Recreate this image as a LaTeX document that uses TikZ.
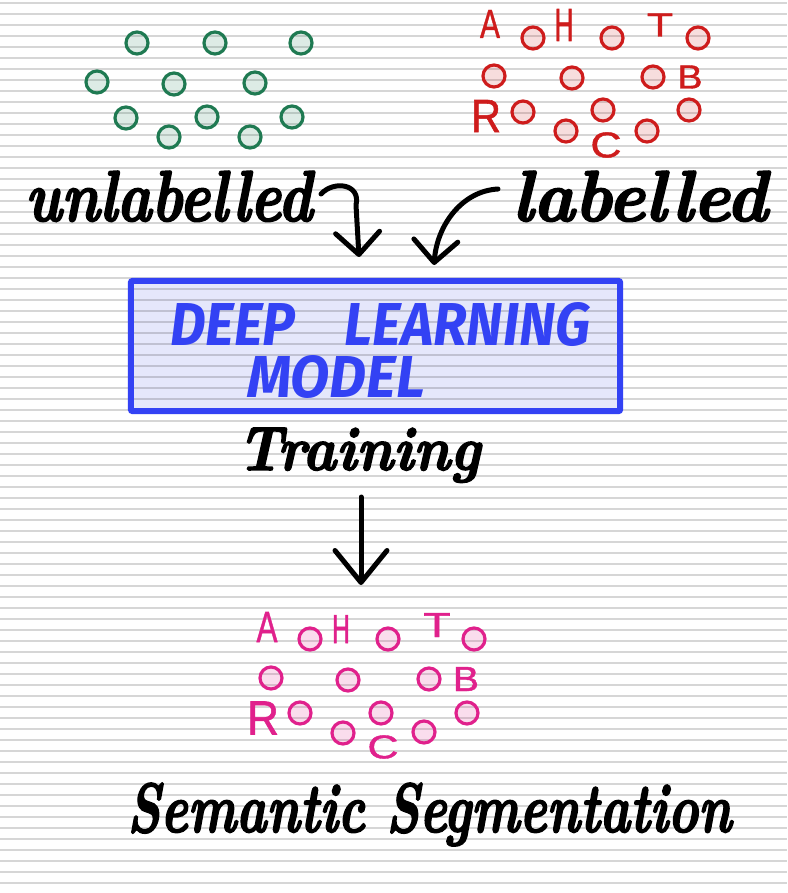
\documentclass[tikz,border=0pt]{standalone}
\usepackage{fontspec}
\usepackage{graphicx}
\usetikzlibrary{arrows.meta}

% handwriting-like faces
\newfontfamily\handfont{lmroman10-bolditalic.otf}[FakeBold=2.5]
\newfontfamily\markerfont{Fira Sans}
\newfontfamily\letterfont{Liberation Sans}[FakeBold=1.2]

\definecolor{dgreen}{HTML}{1F7A52}
\definecolor{dred}{HTML}{CE1C1C}
\definecolor{dpink}{HTML}{E0218C}
\definecolor{mblue}{HTML}{3342F4}
\definecolor{lavender}{HTML}{E5E7FB}

% scale a piece of text to a given width and height (in pt)
\newcommand\fitbox[3]{\resizebox{#1pt}{#2pt}{#3}}

\begin{document}
\begin{tikzpicture}[x=1pt,y=-1pt,
  rule/.style={line width=2pt, draw=black, draw opacity=0.16},
  dot/.style={circle, minimum size=22pt, inner sep=0pt, line width=3.2pt},
  gdot/.style={dot, draw=dgreen, fill=dgreen, fill opacity=0.15},
  rdot/.style={dot, draw=dred, fill=dred, fill opacity=0.15},
  pdot/.style={dot, draw=dpink, fill=dpink, fill opacity=0.15},
  rlet/.style={font=\letterfont, text=dred, inner sep=0pt},
  plet/.style={font=\letterfont, text=dpink, inner sep=0pt},
  hand/.style={font=\handfont, text=black, inner sep=0pt, anchor=base west},
  marker/.style={font=\markerfont\bfseries\itshape, text=mblue, inner sep=0pt, anchor=base west},
  modelfill/.style={rectangle, fill=lavender, minimum width=489pt, minimum height=130pt, inner sep=0pt},
  modelline/.style={draw=mblue, line width=6pt, rounded corners=2pt},
  arr/.style={line width=5pt, line cap=round, line join=round, draw=black,
    -{Straight Barb[length=22pt, width=44pt, round]}}
]
\useasboundingbox (0,0) rectangle (787,893);
\fill[white] (0,0) rectangle (787,893);

% model box fill lies under the ruled lines
\node[modelfill] (box) at (375.5,346) {};

% ruled notebook paper
\foreach \k in {0,...,80}
  \draw[rule] (0,{2.7+11*\k}) -- (787,{2.7+11*\k});

% model box outline and title
\draw[modelline] (box.north west) rectangle (box.south east);
\node[marker] (deep) at (170,345) {\fitbox{420}{43}{DEEP\hspace{0.9em}LEARNING}};
\node[marker] (model) at (247,397) {\fitbox{178}{42}{MODEL}};

% unlabelled samples
\node[gdot] (g1) at (137,43) {};
\node[gdot] (g2) at (215,43) {};
\node[gdot] (g3) at (301,43) {};
\node[gdot] (g4) at (97,82) {};
\node[gdot] (g5) at (174,84) {};
\node[gdot] (g6) at (255,83) {};
\node[gdot] (g7) at (126,118) {};
\node[gdot] (g8) at (207,117) {};
\node[gdot] (g9) at (292,117) {};
\node[gdot] (g10) at (169,137) {};
\node[gdot] (g11) at (250,137) {};

% labelled samples
\node[rdot] (r1) at (533,38) {};
\node[rdot] (r2) at (612,38) {};
\node[rdot] (r3) at (698,38) {};
\node[rdot] (r4) at (494,76) {};
\node[rdot] (r5) at (572,78) {};
\node[rdot] (r6) at (653,77) {};
\node[rdot] (r7) at (523,112) {};
\node[rdot] (r8) at (603,110) {};
\node[rdot] (r9) at (689,110) {};
\node[rdot] (r10) at (566,131) {};
\node[rdot] (r11) at (647,131) {};
\node[rlet] (rA) at (490,24) {\fitbox{20}{28}{A}};
\node[rlet] (rH) at (564,25) {\fitbox{19}{32}{H}};
\node[rlet] (rT) at (660,25) {\fitbox{26}{23}{T}};
\node[rlet] (rB) at (690,77) {\fitbox{25}{23}{B}};
\node[rlet] (rR) at (486,116) {\fitbox{30}{32}{R}};
\node[rlet] (rC) at (606,145) {\fitbox{31}{25}{C}};

% segmented output
\node[pdot] (p1) at (310,639) {};
\node[pdot] (p2) at (388,639) {};
\node[pdot] (p3) at (474,639) {};
\node[pdot] (p4) at (271,678) {};
\node[pdot] (p5) at (348,680) {};
\node[pdot] (p6) at (429,679) {};
\node[pdot] (p7) at (300,713) {};
\node[pdot] (p8) at (381,713) {};
\node[pdot] (p9) at (467,713) {};
\node[pdot] (p10) at (343,733) {};
\node[pdot] (p11) at (424,732) {};
\node[plet] (pA) at (267,627) {\fitbox{21}{30}{A}};
\node[plet] (pH) at (341,629) {\fitbox{18}{28}{H}};
\node[plet] (pT) at (437,625) {\fitbox{27}{24}{T}};
\node[plet] (pB) at (466,679) {\fitbox{26}{24}{B}};
\node[plet] (pR) at (263,718) {\fitbox{32}{33}{R}};
\node[plet] (pC) at (383,747) {\fitbox{31}{23}{C}};

% handwritten captions
\node[hand] (unl) at (25,221) {\fitbox{287}{50}{unlabelled}};
\node[hand] (lab) at (512,221) {\fitbox{255}{50}{labelled}};
\node[hand] (train) at (237,470) {\fitbox{243}{42}{Training}};
\node[hand] (seg) at (127,832) {\fitbox{604}{49}{Semantic Segmentation}};

% arrows into and out of the model
\coordinate (a1s) at (321,194);
\coordinate (a1m) at (356,205);
\coordinate (a1e) at (359,257);
\coordinate (a2s) at (498,189);
\coordinate (a2e) at (434,265);
\coordinate (a3s) at (361,497);
\coordinate (a3e) at (361,585);
\draw[arr] (a1s) .. controls (334,180) and (361,184) .. (a1m) -- (a1e);
\draw[arr] (a2s) .. controls (462,191) and (437,225) .. (a2e);
\draw[arr, -{Straight Barb[length=32pt, width=52pt, round]}] (a3s) -- (a3e);
\end{tikzpicture}
\end{document}
